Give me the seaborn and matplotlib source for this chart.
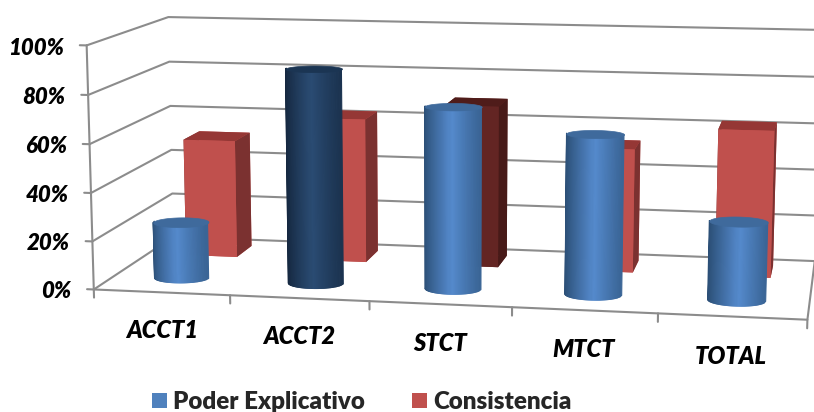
import numpy as np
import matplotlib
matplotlib.use("Agg")
import matplotlib.pyplot as plt
from matplotlib.patches import Patch
from mpl_toolkits.mplot3d import proj3d
from mpl_toolkits.mplot3d.art3d import Poly3DCollection
import seaborn as sns

categories = ["ACCT1", "ACCT2", "STCT", "MTCT", "TOTAL"]
poder_explicativo = [23.5, 89, 75, 65.5, 32]
consistencia = [51, 62, 69, 52.5, 62]
value_ticks = [0, 20, 40, 60, 80, 100]
value_labels = ["0%", "20%", "40%", "60%", "80%", "100%"]
series_names = ["Poder Explicativo", "Consistencia"]

WIDTH, HEIGHT = 814, 412

sns.set_theme(style="white")
plt.rcParams["font.family"] = ["Lato", "DejaVu Sans"]
plt.rcParams["patch.force_edgecolor"] = False

# Corners of the chart box: (category, depth, value) and where each one lands on the canvas.
BOX_CORNERS = [
    ((0, 0, 0), (93, 290)), ((0, 0, 100), (87, 47)),
    ((5, 0, 0), (806, 318)), ((5, 0, 100), (817, 61)),
    ((0, 1, 0), (174, 236)), ((0, 1, 100), (168, 16)),
    ((5, 1, 0), (816, 263)), ((5, 1, 100), (820, 30)),
]


def camera_matrix(corners):
    """Solve the projective camera that carries the box corners onto the canvas."""
    rows, rhs = [], []
    for (x, y, z), (u, v) in corners:
        rows.append([x, y, z, 1, 0, 0, 0, 0, -u * x, -u * y, -u * z])
        rhs.append(u)
        rows.append([0, 0, 0, 0, x, y, z, 1, -v * x, -v * y, -v * z])
        rhs.append(v)
    p = np.linalg.lstsq(np.array(rows, float), np.array(rhs, float), rcond=None)[0]
    return np.array([
        [p[0], p[1], p[2], p[3]],
        [p[4], p[5], p[6], p[7]],
        [-0.01, 1.0, -0.002, 0.0],  # painter's depth: back, low and left go first
        [p[8], p[9], p[10], 1.0],
    ])


fig = plt.figure(figsize=(WIDTH / 100, HEIGHT / 100), dpi=100)
ax = fig.add_axes([0, 0, 1, 1], projection="3d", computed_zorder=False, proj_type="ortho")
ax.set_axis_off()
ax.apply_aspect = lambda position=None: None
projection = camera_matrix(BOX_CORNERS)
ax.get_proj = lambda: projection
ax.viewLim.intervalx = (0, WIDTH)
ax.viewLim.intervaly = (HEIGHT, 0)

GRID = "#8c8c8c"
n = len(categories)


def label(x, y, z, text, ha, size):
    """Put a bold italic label at a position of the chart box."""
    u, v, _ = proj3d.proj_transform(x, y, z, projection)
    fig.text(u / WIDTH, 1 - v / HEIGHT, text, ha=ha, va="center", fontsize=size,
             fontweight="heavy", fontstyle="italic", color="black")


# Walls, floor outline and tick marks
for v, text in zip(value_ticks, value_labels):
    ax.plot([0, 0, n], [0, 1, 1], [v, v, v], color=GRID, lw=1.5, zorder=1)
    ax.plot([-0.05, 0], [0, 0], [v, v], color=GRID, lw=1.5, zorder=1)
    label(-0.165, 0, v - 1.3, text, "right", 16)
ax.plot([0, 0], [0, 0], [0, 100], color=GRID, lw=1.5, zorder=1)
ax.plot([0, n, n], [0, 0, 1], [0, 0, 0], color=GRID, lw=1.5, zorder=1)
for i in range(n + 1):
    ax.plot([i, i], [0, 0], [0, -3.4], color=GRID, lw=1.5, zorder=1)
for i, name in enumerate(categories):
    label(i + 0.495, 0, -16, name, "center", 17)

# Consistencia: square columns on the rear row; STCT is the highlighted point
RED_FACE, RED_TOP, RED_SIDE = "#C0504D", "#953735", "#7B3130"
DARK_FACE, DARK_TOP, DARK_SIDE = "#632523", "#4F1C1A", "#471A18"
for i, value in enumerate(consistencia):
    face, top, side = (DARK_FACE, DARK_TOP, DARK_SIDE) if categories[i] == "STCT" else (RED_FACE, RED_TOP, RED_SIDE)
    # bar3d face order: bottom, top, front, back, left, right
    ax.bar3d(i + 0.30, 0.66, 0, 0.40, 0.22, value,
             color=[face, top, face, face, side, side], shade=False,
             edgecolor="none", zorder=2)


def cylinder(center, value, rx, ry, y0, edge_l, mid, edge_r, cap):
    # Strips of equal screen width over the half that faces the viewer
    across = np.linspace(-1, 1, 57)
    xs = center + rx * across
    ys = y0 - ry * np.sqrt(1 - across ** 2)
    X = np.vstack([xs, xs])
    Y = np.vstack([ys, ys])
    Z = np.vstack([np.zeros_like(xs), np.full_like(xs, value)])
    left = sns.blend_palette([edge_l, mid], 31)
    right = sns.blend_palette([mid, edge_r], 25)
    # brightest strip sits a little right of the centre line
    colors = np.ones((1, len(xs) - 1, 4))
    colors[0, :, :3] = np.array(list(left) + list(right))[:len(xs) - 1]
    ax.plot_surface(X, Y, Z, facecolors=colors, rstride=1, cstride=1,
                    shade=False, linewidth=0.8, antialiased=True, zorder=3)
    ring = np.linspace(0, 2 * np.pi, 121)
    lid = list(zip(center + rx * np.cos(ring), y0 + ry * np.sin(ring), np.full_like(ring, value)))
    ax.add_collection3d(Poly3DCollection([lid], facecolors=cap, edgecolors=cap,
                                         linewidths=0.5, zorder=4))


# Poder Explicativo: cylinders on the front row; ACCT2 is the highlighted point
for i, value in enumerate(poder_explicativo):
    if categories[i] == "ACCT2":
        shades = ("#14263D", "#2A4B72", "#1B3350", "#1B3553")
    else:
        shades = ("#2B4E75", "#5489CB", "#3A6596", "#3F6A9C")
    cylinder(i + 0.5, value, 0.20, 0.095, 0.26, *shades)

handles = [Patch(facecolor="#4F81BD"), Patch(facecolor="#C0504D")]
fig.legend(handles, series_names, loc="center", bbox_to_anchor=(361.5 / WIDTH, 1 - 402 / HEIGHT),
           ncol=2, frameon=False, handlelength=0.64, handleheight=0.64, handletextpad=0.24,
           columnspacing=1.95, borderpad=0,
           prop={"family": "Lato", "weight": "heavy", "size": 17.4})

fig.savefig("out.png", dpi=100)
